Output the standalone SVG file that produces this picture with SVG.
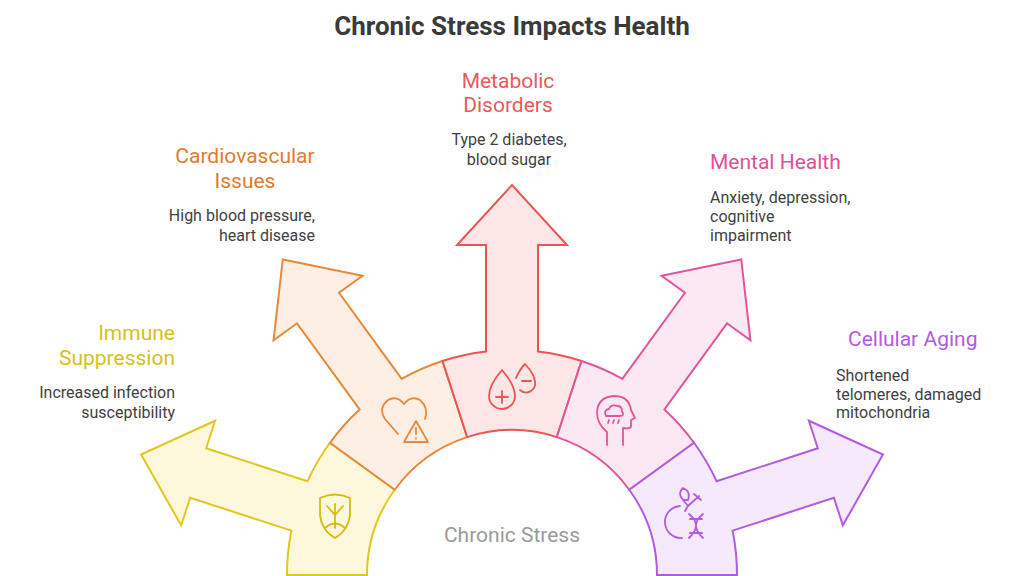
<svg xmlns="http://www.w3.org/2000/svg" width="1024" height="576" viewBox="0 0 1024 576">
<style>
text{font-family:Roboto,"Liberation Sans",sans-serif}
.t{font-size:21px}
.d{font-size:16px;fill:#3f3f3f}
.seg{stroke-width:2;stroke-linejoin:miter}
.ic{fill:none;stroke-width:1.8;stroke-linecap:round;stroke-linejoin:round}
</style>
<defs>
<path id="arr" d="M -44.8 -137.9 L -69.5 -214 A 225 225 0 0 1 -26 -223.5 L -26 -330 L -55 -330 L 0 -390 L 55 -330 L 26 -330 L 26 -223.5 A 225 225 0 0 1 69.5 -214 L 44.8 -137.9 A 145 145 0 0 0 -44.8 -137.9 Z"/>
</defs>
<rect width="1024" height="576" fill="#fff"/>
<text x="512" y="35" text-anchor="middle" style="font-size:26px;font-weight:bold;fill:#3a3a3a">Chronic Stress Impacts Health</text>
<g id="immune">
<use href="#arr" class="seg" fill="#fdf8dc" stroke="#e0c81f" transform="translate(512 575) rotate(-72)"/>
<g class="ic" stroke="#d4bd10"><path d="M320 498 Q335 491 350 498 L350 515 Q348 531 335 538 Q322 531 320 515 Z"/><path d="M335 528 V504 M335 515 L327 506 M335 515 L343 506 M325 528 Q335 519 345 528"/></g>
<text class="t" x="175" y="340" text-anchor="end" fill="#d4c21a">Immune</text>
<text class="t" x="175" y="365" text-anchor="end" fill="#d4c21a">Suppression</text>
<text class="d" x="175" y="398" text-anchor="end">Increased infection</text>
<text class="d" x="175" y="418" text-anchor="end">susceptibility</text>
</g>
<g id="cardio">
<use href="#arr" class="seg" fill="#fdefe3" stroke="#e8893a" transform="translate(512 575) rotate(-36)"/>
<g class="ic" stroke="#e8893a"><path d="M398 434 L385 419 Q378 408 388 400 Q397 395 404 404 Q411 395 420 400 Q429 408 425 419"/><path d="M416 421 L404 442 H428 Z M416 428 V434 M416 438 V438.5"/></g>
<text class="t" x="245" y="163" text-anchor="middle" fill="#e07c2c">Cardiovascular</text>
<text class="t" x="245" y="188" text-anchor="middle" fill="#e07c2c">Issues</text>
<text class="d" x="315" y="221" text-anchor="end">High blood pressure,</text>
<text class="d" x="315" y="241" text-anchor="end">heart disease</text>
</g>
<g id="metabolic">
<use href="#arr" class="seg" fill="#fde6e6" stroke="#ea5455" transform="translate(512 575)"/>
<g class="ic" stroke="#ea5455"><path d="M502 370 Q489 385 489 396 A13 13 0 0 0 515 396 Q515 385 502 370 Z M496 397 H508 M502 391 V403"/><path d="M516 378 Q520 369 525 364 Q535 375 535 382 A9 9 0 0 1 520 390 M522 381 H531"/></g>
<text class="t" x="508" y="88" text-anchor="middle" fill="#e85a5a">Metabolic</text>
<text class="t" x="508" y="112" text-anchor="middle" fill="#e85a5a">Disorders</text>
<text class="d" x="509" y="145" text-anchor="middle">Type 2 diabetes,</text>
<text class="d" x="509" y="165" text-anchor="middle">blood sugar</text>
</g>
<g id="mental">
<use href="#arr" class="seg" fill="#fce8f3" stroke="#e0559b" transform="translate(512 575) rotate(36)"/>
<g class="ic" stroke="#e0559b"><path d="M607 445 V432 Q597 424 597 412 Q598 397 614 396 Q629 396 631 410 L635 418 L631 420 V427 Q629 429 623 428 V445"/><path d="M606 416 Q603 410 609 409 Q611 404 617 406 Q622 406 622 411 Q625 416 620 416 Z M609 420 L608 423 M614 420 L613 423 M619 420 L618 423"/></g>
<text class="t" x="710" y="169" fill="#e0509c">Mental Health</text>
<text class="d" x="710" y="203">Anxiety, depression,</text>
<text class="d" x="710" y="222">cognitive</text>
<text class="d" x="710" y="241">impairment</text>
</g>
<g id="aging">
<use href="#arr" class="seg" fill="#f5e9fc" stroke="#b35be0" transform="translate(512 575) rotate(72)"/>
<g class="ic" stroke="#b35be0"><path d="M680 506 A15 15 0 1 0 682 538"/><path d="M683 500 Q677 493 683 488 Q691 491 688 500 Z M683 500 L688 506 L699 496 M694 494 L701 500 M685 511 L688 506"/><path d="M689 514 Q703 525 689 538 M703 514 Q689 525 703 538 M690 519 H702 M690 533 H702"/></g>
<text class="t" x="848" y="346" fill="#b35be0">Cellular Aging</text>
<text class="d" x="836" y="381">Shortened</text>
<text class="d" x="836" y="400">telomeres, damaged</text>
<text class="d" x="836" y="418">mitochondria</text>
</g>
<text x="512" y="542" text-anchor="middle" style="font-size:21px;fill:#9a9a9a">Chronic Stress</text>
</svg>
